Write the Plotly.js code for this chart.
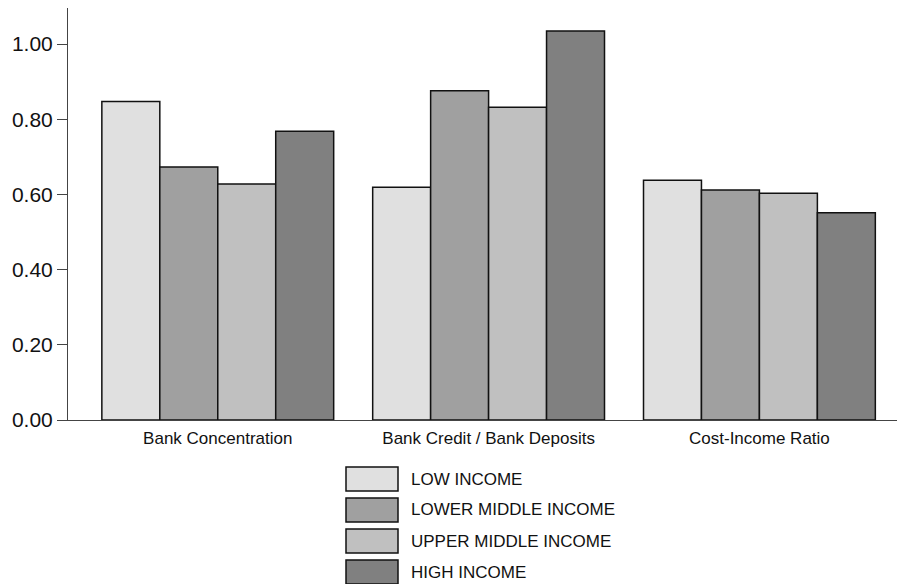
<!DOCTYPE html>
<html>
<head>
<meta charset="utf-8">
<script src="https://cdn.plot.ly/plotly-3.0.1.min.js"></script>
<style>html,body{margin:0;padding:0;background:#fff;}#chart{width:897px;height:584px;}</style>
</head>
<body>
<div id="chart"></div>
<script>
const categories = ["Bank Concentration", "Bank Credit / Bank Deposits", "Cost-Income Ratio"];
const seriesNames = ["LOW INCOME", "LOWER MIDDLE INCOME", "UPPER MIDDLE INCOME", "HIGH INCOME"];
const seriesColors = ["#e0e0e0", "#a0a0a0", "#c0c0c0", "#808080"];
const lowIncome = [0.847, 0.619, 0.638];
const lowerMiddleIncome = [0.673, 0.876, 0.612];
const upperMiddleIncome = [0.628, 0.832, 0.603];
const highIncome = [0.768, 1.035, 0.551];
const yTickVals = [0, 0.2, 0.4, 0.6, 0.8, 1.0];
const yTickText = ["0.00", "0.20", "0.40", "0.60", "0.80", "1.00"];

const seriesValues = [lowIncome, lowerMiddleIncome, upperMiddleIncome, highIncome];
const traces = seriesValues.map((vals, i) => ({
  type: "bar",
  name: seriesNames[i],
  x: categories,
  y: vals,
  marker: {color: seriesColors[i], line: {color: "#111", width: 1.5}},
  hoverinfo: "x+y"
}));

const W = 897, H = 584;
const mL = 68, mR = 0, mT = 8, mB = 164;
const pw = W - mL - mR, ph = H - mT - mB;
const px = v => (v - mL) / pw;
const py = v => (H - mB - v) / ph;

const shapes = [];
const annotations = [];
seriesNames.forEach((name, i) => {
  const top = 467 + i * 31;
  shapes.push({
    type: "rect", xref: "paper", yref: "paper",
    x0: px(346), x1: px(398), y0: py(top + 24), y1: py(top),
    fillcolor: seriesColors[i], line: {color: "#111", width: 1.5}
  });
  annotations.push({
    xref: "paper", yref: "paper", x: px(409), y: py(top + 12),
    xanchor: "left", yanchor: "middle", showarrow: false,
    text: name, font: {family: "Liberation Sans, Arial, sans-serif", size: 17, color: "#111"}
  });
});

const layout = {
  width: W, height: H,
  margin: {l: mL, r: mR, t: mT, b: mB, pad: 0},
  paper_bgcolor: "#fff", plot_bgcolor: "#fff",
  showlegend: false,
  barmode: "group",
  bargap: 0.144,
  bargroupgap: 0,
  font: {family: "Liberation Sans, Arial, sans-serif", color: "#111"},
  xaxis: {
    type: "category",
    range: [-0.553, 2.508],
    showline: true, linecolor: "#444", linewidth: 1,
    ticks: "", showgrid: false, zeroline: false,
    ticklabelstandoff: 3,
    tickfont: {size: 17, color: "#111"}
  },
  yaxis: {
    range: [0, 1.096],
    tickvals: yTickVals, ticktext: yTickText,
    ticks: "outside", ticklen: 10, tickcolor: "#444", tickwidth: 1,
    showline: true, linecolor: "#444", linewidth: 1,
    showgrid: false, zeroline: false,
    tickfont: {size: 21, color: "#111"}
  },
  shapes: shapes,
  annotations: annotations
};

Plotly.newPlot("chart", traces, layout, {displayModeBar: false, staticPlot: true});
</script>
</body>
</html>
